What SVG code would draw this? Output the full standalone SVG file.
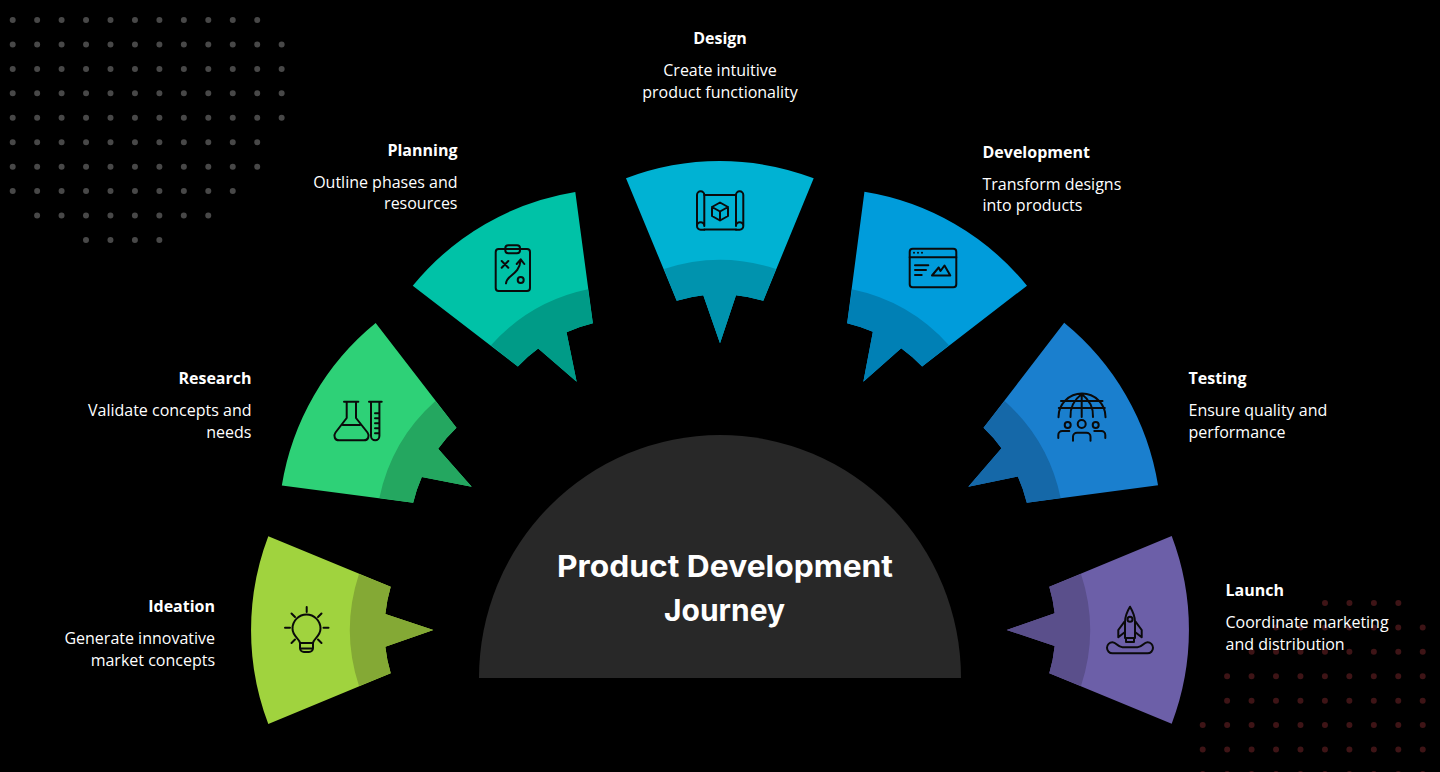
<svg xmlns="http://www.w3.org/2000/svg" width="1440" height="772" viewBox="0 0 1440 772">
<style>
.h{font:700 16px "Open Sans","Noto Sans",sans-serif;fill:#fff}
.b{font:400 16px "Open Sans","Noto Sans",sans-serif;fill:#fff}
.r{text-anchor:end}.m{text-anchor:middle}
.t{font:700 30px Inter,"Liberation Sans",sans-serif;fill:#fff;text-anchor:middle}
.i{fill:none;stroke:#0a0a0a;stroke-width:2;stroke-linecap:round;stroke-linejoin:round}
.d1,.d2{fill:none;stroke-width:6;stroke-linecap:round;stroke-dasharray:0 24.45}
.d1{stroke:#484848}.d2{stroke:#3e1416}
</style>
<defs>
<path id="wedge" d="M626 178.3A264 264 0 0 1 813.7 178.3L763.3 300.7A150 150 0 0 0 736 295.3L720 343.3L703.3 295.3A150 150 0 0 0 676.7 300.7Z"/>
<path id="band" d="M664 269A179 179 0 0 1 776 269L763.3 300.7A150 150 0 0 0 736 295.3L720 343.3L703.3 295.3A150 150 0 0 0 676.7 300.7Z"/>
</defs>
<rect width="1440" height="772" fill="#000"/>
<g id="dots-top-left" class="d1">
<path d="M12.7 20H258"/><path d="M12.7 44.4H282"/><path d="M12.7 68.9H282"/><path d="M12.7 93.3H282"/><path d="M12.7 117.8H282"/><path d="M12.7 142.2H258"/><path d="M12.7 166.7H258"/><path d="M12.7 191.1H233"/><path d="M37.1 215.6H209"/><path d="M86 240H160"/>
</g>
<g id="dots-bottom-right" class="d2">
<path d="M1325 603H1400"/><path d="M1276 627.4H1424"/><path d="M1251.6 651.8H1424"/><path d="M1227.1 676.3H1424"/><path d="M1227.1 700.7H1424"/><path d="M1202.7 725.1H1424"/><path d="M1202.7 749.5H1424"/><path d="M1202.7 774H1424"/>
</g>
<g id="center">
<path d="M479 678A241 243 0 0 1 961 678Z" fill="#282828"/>
<text class="t" x="725" y="577" textLength="336" lengthAdjust="spacingAndGlyphs">Product Development</text>
<text class="t" x="724.500" y="621" textLength="121" lengthAdjust="spacingAndGlyphs">Journey</text>
</g>
<g id="ideation">
<use href="#wedge" transform="rotate(-90 720 630)" fill="#a0d33e"/>
<use href="#band" transform="rotate(-90 720 630)" fill="#84a935"/>
<g class="i"><path d="M300 643c0-4-7.5-6.5-7.5-14.500a14 14 0 1 1 28 0c0 8-7.500 10.500-7.500 14.500Z"/><path d="M300 643v5a4 4 0 0 0 4 4h5a4 4 0 0 0 4-4v-5M300 648.500h13"/><path d="M306.700 607v5M285 627.800h5M323.500 627.800h5M291.500 613.500l3.500 3.500M321.500 613.500l-3.500 3.500M291.500 643l3.500-3.500M321.500 643l-3.500-3.500"/></g>
<text class="h r" x="215" y="612">Ideation</text>
<text class="b r" x="215" y="644">Generate innovative</text>
<text class="b r" x="215" y="666">market concepts</text>
</g>
<g id="research">
<use href="#wedge" transform="rotate(-60 720 630)" fill="#2ed177"/>
<use href="#band" transform="rotate(-60 720 630)" fill="#24a760"/>
<g class="i"><path d="M344 401.700h14.300M346.700 401.700V418L335.500 432.500C333 436 335 440.300 339 440.300H364C368 440.300 370 436 367.500 432.500L356 418V401.700M342.700 425H360"/><path d="M369 401.700h12.700M371 401.700V436a4.200 4.200 0 0 0 8.400 0V401.700M375 413.300h4.400M375 418.300h4.400M375 423.300h4.400M375 428.300h4.400M375 433.300h4.400"/></g>
<text class="h r" x="251.500" y="384">Research</text>
<text class="b r" x="251.500" y="416">Validate concepts and</text>
<text class="b r" x="251.500" y="438">needs</text>
</g>
<g id="planning">
<use href="#wedge" transform="rotate(-30 720 630)" fill="#00c2a7"/>
<use href="#band" transform="rotate(-30 720 630)" fill="#009b87"/>
<g class="i"><rect x="495.700" y="249" width="34.300" height="42" rx="3"/><rect x="505.300" y="245.300" width="14.700" height="8" rx="3"/><path d="M501.700 261l6.600 6.700M508.300 261l-6.600 6.700M506 283.300C507 274 519 276 520.700 260M516.700 264l4-4.700 3.600 4.700"/><circle cx="520.700" cy="280" r="3"/></g>
<text class="h r" x="457.500" y="156">Planning</text>
<text class="b r" x="457.500" y="188">Outline phases and</text>
<text class="b r" x="457.500" y="209">resources</text>
</g>
<g id="design">
<use href="#wedge" fill="#00b2d3"/>
<use href="#band" fill="#0093ae"/>
<g class="i"><path d="M704.300 195h31.700M704.300 229.500h31.700"/><path d="M697 226V195a3.600 3.600 0 0 1 7.300 0V226M697 226a3.650 3.650 0 0 0 3.650 3.800H704.300M704.300 226a3.650 3.650 0 0 0-7.300 0"/><path d="M743.300 226V195a3.600 3.600 0 0 0-7.300 0V226M743.300 226a3.650 3.650 0 0 1-3.650 3.800H736M736 226a3.650 3.650 0 0 1 7.300 0"/><path d="M720 202.500l8 4.500v9l-8 4.500-8-4.500v-9ZM712 207l8 4.500 8-4.500M720 211.500v9"/></g>
<text class="h m" x="720" y="44">Design</text>
<text class="b m" x="720" y="76">Create intuitive</text>
<text class="b m" x="720" y="98">product functionality</text>
</g>
<g id="development">
<use href="#wedge" transform="rotate(30 720 630)" fill="#009cdb"/>
<use href="#band" transform="rotate(30 720 630)" fill="#0080b5"/>
<g class="i"><rect x="909.700" y="248.700" width="46.600" height="38.600" rx="3"/><path d="M909.700 257.300h46.600M915 265.300h13.300M915 270h11M915 275h6.700M932 275.500h18.300L944.500 265.500 940.500 271 938.700 267.500Z"/></g>
<g fill="#0a0a0a"><circle cx="914" cy="252.800" r="1"/><circle cx="918" cy="252.800" r="1"/><circle cx="922" cy="252.800" r="1"/></g>
<text class="h" x="982.500" y="158">Development</text>
<text class="b" x="982.500" y="190">Transform designs</text>
<text class="b" x="982.500" y="211">into products</text>
</g>
<g id="testing">
<use href="#wedge" transform="rotate(60 720 630)" fill="#1a7fce"/>
<use href="#band" transform="rotate(60 720 630)" fill="#1568a8"/>
<g class="i" stroke-width="1.800"><path d="M1058.500 417.300V417A23.500 23.500 0 0 1 1105.500 417V417.300M1081.700 394V417M1061 401H1102.500M1058.800 408H1104.800M1081.700 394C1074 400 1070 408 1070.500 417M1081.700 394C1089.500 400 1093.500 408 1093 417"/><circle cx="1081.700" cy="424" r="4"/><circle cx="1067.700" cy="425" r="3"/><circle cx="1095.700" cy="425" r="3"/><path d="M1073 440.700v-4a4 4 0 0 1 4-4h9.500a4 4 0 0 1 4 4v4M1058.300 438v-3a4 4 0 0 1 4-4h7M1105.300 438v-3a4 4 0 0 0-4-4h-7"/></g>
<text class="h" x="1188.500" y="384">Testing</text>
<text class="b" x="1188.500" y="416">Ensure quality and</text>
<text class="b" x="1188.500" y="438">performance</text>
</g>
<g id="launch">
<use href="#wedge" transform="rotate(90 720 630)" fill="#6c5fa8"/>
<use href="#band" transform="rotate(90 720 630)" fill="#5a4f8b"/>
<g class="i"><path d="M1125 638V622C1125 615 1128 610 1130 606.700C1132 610 1135 615 1135 622V638ZM1126 638v4h8v-4"/><circle cx="1130" cy="619.300" r="2.500"/><path d="M1124.500 621.700L1118.300 630V637.300L1125 632M1135.500 621.700L1141.700 630V637.300L1135 632"/><path d="M1112.500 653.300H1147.500a5.500 5.500 0 0 0 0-11c-4 0-5 5-10 5h-15c-5 0-6-5-10-5a5.500 5.500 0 0 0 0 11Z"/></g>
<text class="h" x="1225.500" y="596">Launch</text>
<text class="b" x="1225.500" y="628">Coordinate marketing</text>
<text class="b" x="1225.500" y="650">and distribution</text>
</g>
</svg>
